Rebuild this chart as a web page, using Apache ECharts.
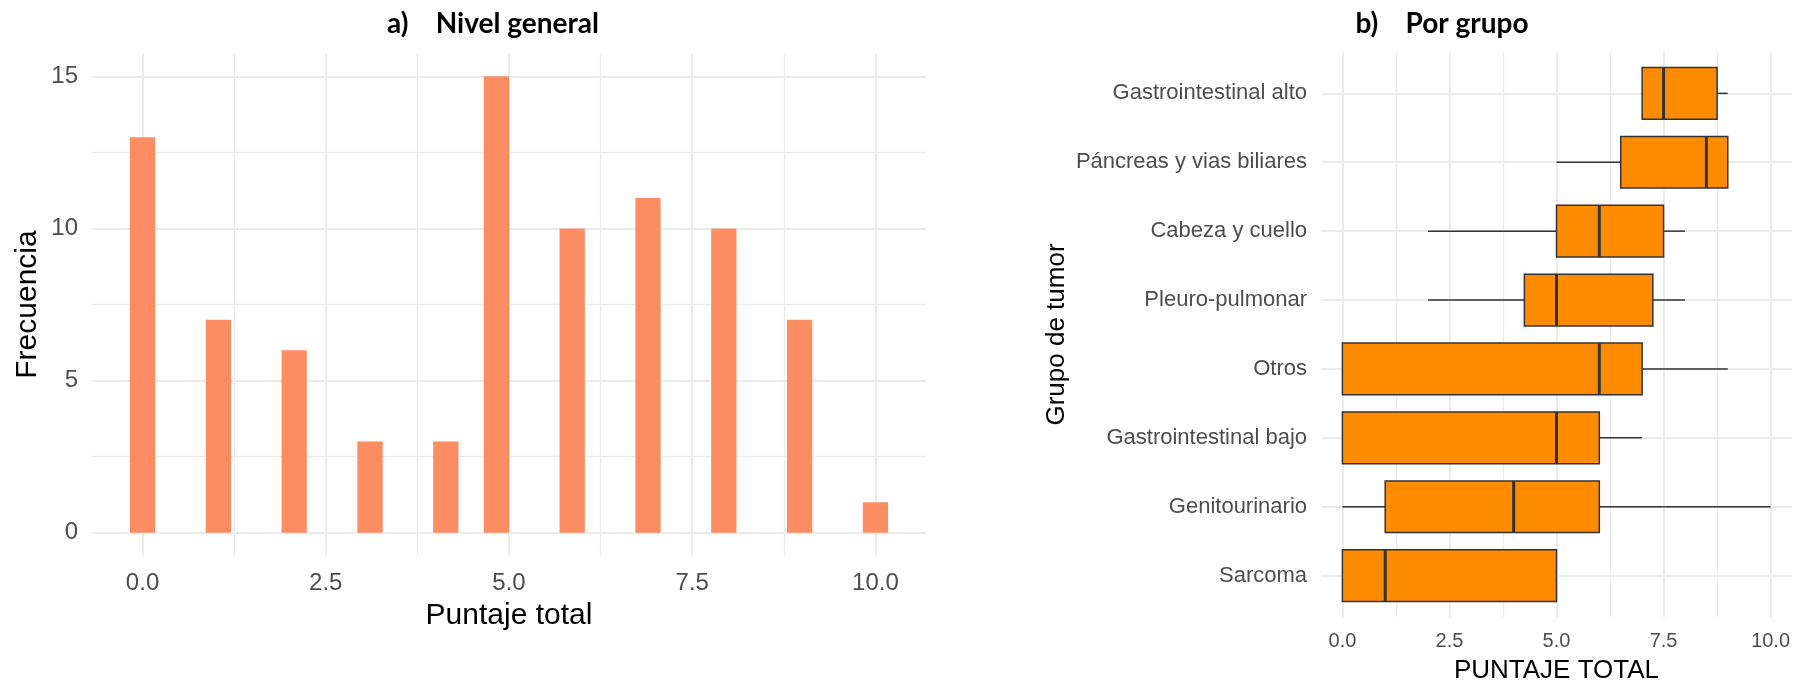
<!DOCTYPE html>
<html>
<head>
<meta charset="utf-8">
<title>Puntaje total</title>
<script src="https://cdn.jsdelivr.net/npm/echarts@6/dist/echarts.min.js"></script>
<style>
  html, body { margin: 0; padding: 0; background: #ffffff; }
  #chart { width: 1807px; height: 689px; }
</style>
</head>
<body>
<div id="chart"></div>
<script>
// ---- a) Nivel general: histogram of total score ----
const scores = [0, 1, 2, 3, 4, 5, 6, 7, 8, 9, 10];
const counts = [13, 7, 6, 3, 3, 15, 10, 11, 10, 7, 1];
const histBins = 30;                       // ggplot default bin count
const histXTicks = [0, 2.5, 5, 7.5, 10];
const histXMinor = [1.25, 3.75, 6.25, 8.75];
const histYTicks = [0, 5, 10, 15];
const histYMinor = [2.5, 7.5, 12.5];

// ---- b) Por grupo: box plots by tumour group (bottom to top) ----
const groups = ['Sarcoma', 'Genitourinario', 'Gastrointestinal bajo', 'Otros',
                'Pleuro-pulmonar', 'Cabeza y cuello', 'Páncreas y vias biliares', 'Gastrointestinal alto'];
const boxMin = [0, 0, 0, 0, 2, 2, 5, 7];
const boxQ1  = [0, 1, 0, 0, 4.25, 5, 6.5, 7];
const boxMed = [1, 4, 5, 6, 5, 6, 8.5, 7.5];
const boxQ3  = [5, 6, 6, 7, 7.25, 7.5, 9, 8.75];
const boxMax = [5, 10, 7, 9, 8, 8, 9, 9];
const boxXTicks = [0, 2.5, 5, 7.5, 10];
const boxXMinor = [1.25, 3.75, 6.25, 8.75];

// histogram bin layout (bins centred on the data range ends)
const binWidth = (scores[scores.length - 1] - scores[0]) / (histBins - 1);
const histData = scores.map((s, i) => [Math.round(s / binWidth) * binWidth, counts[i]]);
const histLo = scores[0] - binWidth / 2, histHi = scores[scores.length - 1] + binWidth / 2;
const histPad = (histHi - histLo) * 0.05;

const boxData = groups.map((g, i) => [i + 1, boxMin[i], boxQ1[i], boxMed[i], boxQ3[i], boxMax[i]]);

const sans = "'Liberation Sans', Arial, sans-serif";
const gridColor = '#EBEBEB';
const tickColor = '#4D4D4D';

function gridLines(xVals, yVals, width) {
  return {
    silent: true, symbol: 'none', z: 1, animation: false,
    label: { show: false },
    lineStyle: { color: gridColor, width: width, type: 'solid' },
    emphasis: { disabled: true },
    data: xVals.map(v => ({ xAxis: v })).concat(yVals.map(v => ({ yAxis: v })))
  };
}

const chart = echarts.init(document.getElementById('chart'), null, { renderer: 'canvas' });

chart.setOption({
  animation: false,
  backgroundColor: '#ffffff',
  graphic: [
    { type: 'text', x: 493, y: 24, style: { text: 'a)    Nivel general', fontFamily: 'Lato, sans-serif', fontWeight: 'bold', fontSize: 28, fill: '#000', align: 'center', verticalAlign: 'middle' } },
    { type: 'text', x: 1442, y: 24, style: { text: 'b)    Por grupo', fontFamily: 'Lato, sans-serif', fontWeight: 'bold', fontSize: 28, fill: '#000', align: 'center', verticalAlign: 'middle' } }
  ],
  grid: [
    { left: 92, top: 53.5, width: 834, height: 502, containLabel: false },
    { left: 1321, top: 52, width: 471, height: 569, containLabel: false }
  ],
  xAxis: [
    {
      gridIndex: 0, type: 'value', min: histLo - histPad, max: histHi + histPad,
      axisLine: { show: false }, axisTick: { show: false }, splitLine: { show: false },
      axisLabel: { customValues: histXTicks, formatter: v => v.toFixed(1), color: tickColor, fontFamily: sans, fontSize: 24, margin: 16 },
      name: 'Puntaje total', nameLocation: 'middle', nameGap: 45,
      nameTextStyle: { fontFamily: sans, fontSize: 30, color: '#000' }
    },
    {
      gridIndex: 1, type: 'value', min: -0.5, max: 10.5,
      axisLine: { show: false }, axisTick: { show: false }, splitLine: { show: false },
      axisLabel: { customValues: boxXTicks, formatter: v => v.toFixed(1), color: tickColor, fontFamily: sans, fontSize: 20, margin: 14 },
      name: 'PUNTAJE TOTAL', nameLocation: 'middle', nameGap: 41,
      nameTextStyle: { fontFamily: sans, fontSize: 26, color: '#000' }
    }
  ],
  yAxis: [
    {
      gridIndex: 0, type: 'value', min: -0.75, max: 15.75,
      axisLine: { show: false }, axisTick: { show: false }, splitLine: { show: false },
      axisLabel: { customValues: histYTicks, color: tickColor, fontFamily: sans, fontSize: 24, margin: 14 },
      name: 'Frecuencia', nameLocation: 'middle', nameGap: 49,
      nameTextStyle: { fontFamily: sans, fontSize: 30, color: '#000' }
    },
    {
      gridIndex: 1, type: 'value', min: 0.4, max: groups.length + 0.6,
      axisLine: { show: false }, axisTick: { show: false }, splitLine: { show: false },
      axisLabel: { customValues: groups.map((g, i) => i + 1), formatter: v => groups[Math.round(v) - 1], color: tickColor, fontFamily: sans, fontSize: 22, margin: 14 },
      name: 'Grupo de tumor', nameLocation: 'middle', nameGap: 251,
      nameTextStyle: { fontFamily: sans, fontSize: 26, color: '#000' }
    }
  ],
  series: [
    // panel grid lines
    { type: 'line', xAxisIndex: 0, yAxisIndex: 0, data: [], silent: true, markLine: gridLines(histXMinor, histYMinor, 1.3) },
    { type: 'line', xAxisIndex: 0, yAxisIndex: 0, data: [], silent: true, markLine: gridLines(histXTicks, histYTicks, 2) },
    { type: 'line', xAxisIndex: 1, yAxisIndex: 1, data: [], silent: true, markLine: gridLines(boxXMinor, [], 1.3) },
    { type: 'line', xAxisIndex: 1, yAxisIndex: 1, data: [], silent: true, markLine: gridLines(boxXTicks, groups.map((g, i) => i + 1), 2) },
    // histogram bars
    {
      type: 'custom', xAxisIndex: 0, yAxisIndex: 0, z: 3, data: histData,
      encode: { x: 0, y: 1 },
      renderItem: function (params, api) {
        const x = api.value(0), n = api.value(1);
        const p0 = api.coord([x - binWidth / 2, 0]);
        const p1 = api.coord([x + binWidth / 2, n]);
        return {
          type: 'rect',
          shape: { x: p0[0], y: p1[1], width: p1[0] - p0[0], height: p0[1] - p1[1] },
          style: { fill: '#FC8D62' }
        };
      }
    },
    // box plots
    {
      type: 'custom', xAxisIndex: 1, yAxisIndex: 1, z: 3, data: boxData,
      encode: { y: 0, x: [1, 2, 3, 4, 5] },
      renderItem: function (params, api) {
        const y = api.value(0);
        const lo = api.coord([api.value(1), y]);
        const q1 = api.coord([api.value(2), y]);
        const md = api.coord([api.value(3), y]);
        const q3 = api.coord([api.value(4), y]);
        const hi = api.coord([api.value(5), y]);
        const h = api.size([0, 0.75])[1];
        const line = { stroke: '#333333', lineWidth: 1.5 };
        return {
          type: 'group',
          children: [
            { type: 'line', shape: { x1: lo[0], y1: lo[1], x2: q1[0], y2: q1[1] }, style: line },
            { type: 'line', shape: { x1: q3[0], y1: q3[1], x2: hi[0], y2: hi[1] }, style: line },
            { type: 'rect', shape: { x: q1[0], y: q1[1] - h / 2, width: q3[0] - q1[0], height: h },
              style: { fill: '#FF8C00', stroke: '#333333', lineWidth: 1.5 } },
            { type: 'line', shape: { x1: md[0], y1: md[1] - h / 2, x2: md[0], y2: md[1] + h / 2 },
              style: { stroke: '#333333', lineWidth: 3 } }
          ]
        };
      }
    }
  ]
});
</script>
</body>
</html>
